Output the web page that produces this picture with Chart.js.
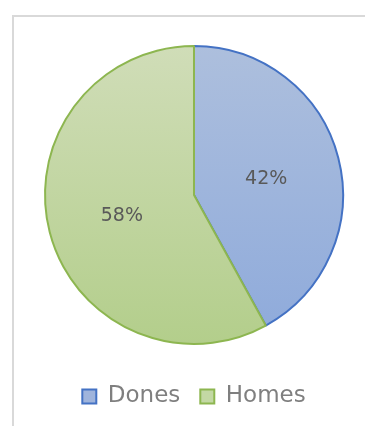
<!DOCTYPE html>
<html>
<head>
<meta charset="utf-8">
<script src="https://cdn.jsdelivr.net/npm/chart.js@4"></script>
<style>
  html, body { margin: 0; padding: 0; background: #fff; overflow: hidden; }
  #wrap { position: relative; width: 365px; height: 426px; }
</style>
</head>
<body>
<div id="wrap"><canvas id="pieChart" width="365" height="426"></canvas></div>
<script>
  const categories = ['Dones', 'Homes'];
  const shares = [42, 58];

  // top / bottom stops of each slice's fill, plus outline and legend swatch
  const fillTop = ['#adbfdd', '#d0ddb8'];
  const fillBottom = ['#8eaadb', '#b3ce8b'];
  const outline = ['#4472c4', '#8db650'];
  const swatch = ['#9fb4dc', '#c3d8a4'];

  function sliceFill(context) {
    const i = context.dataIndex;
    const area = context.chart.chartArea;
    if (!area) return swatch[i];
    const cy = (area.top + area.bottom) / 2;
    const r = Math.min(area.width, area.height) / 2;
    const g = context.chart.ctx.createLinearGradient(0, cy - r, 0, cy + r);
    g.addColorStop(0, fillTop[i]);
    g.addColorStop(1, fillBottom[i]);
    return g;
  }

  // light grey plot frame: left and top edges only, the rest runs off the page
  const frame = {
    id: 'frame',
    beforeDraw(chart) {
      const c = chart.ctx;
      c.save();
      c.strokeStyle = '#d9d9d9';
      c.lineWidth = 2;
      c.beginPath();
      c.moveTo(13, chart.height + 5);
      c.lineTo(13, 16);
      c.lineTo(chart.width + 5, 16);
      c.stroke();
      c.restore();
    }
  };

  // percentage labels at each slice's centroid
  const sliceLabels = {
    id: 'sliceLabels',
    afterDatasetsDraw(chart) {
      const c = chart.ctx;
      c.save();
      c.font = '19px "DejaVu Sans"';
      c.fillStyle = '#595959';
      c.textAlign = 'center';
      c.textBaseline = 'middle';
      chart.getDatasetMeta(0).data.forEach((arc, i) => {
        const p = arc.tooltipPosition();
        c.fillText(shares[i] + '%', p.x, p.y + 3);
      });
      c.restore();
    }
  };

  const ctx = document.getElementById('pieChart').getContext('2d');
  new Chart(ctx, {
    type: 'pie',
    data: {
      labels: categories,
      datasets: [{
        data: shares,
        backgroundColor: sliceFill,
        borderColor: outline,
        borderWidth: 2
      }]
    },
    options: {
      responsive: false,
      animation: false,
      layout: { padding: { left: 44, right: 21, top: 25, bottom: 8 } },
      plugins: {
        tooltip: { enabled: false },
        legend: {
          position: 'bottom',
          labels: {
            boxWidth: 14,
            boxHeight: 14,
            padding: 20,
            color: '#7f7f7f',
            font: { family: '"DejaVu Sans"', size: 23 },
            generateLabels(chart) {
              return chart.data.labels.map((label, i) => ({
                text: label,
                fillStyle: swatch[i],
                strokeStyle: outline[i],
                fontColor: '#7f7f7f',
                lineWidth: 2,
                hidden: !chart.getDataVisibility(i),
                index: i
              }));
            }
          }
        }
      }
    },
    plugins: [frame, sliceLabels]
  });
</script>
</body>
</html>
